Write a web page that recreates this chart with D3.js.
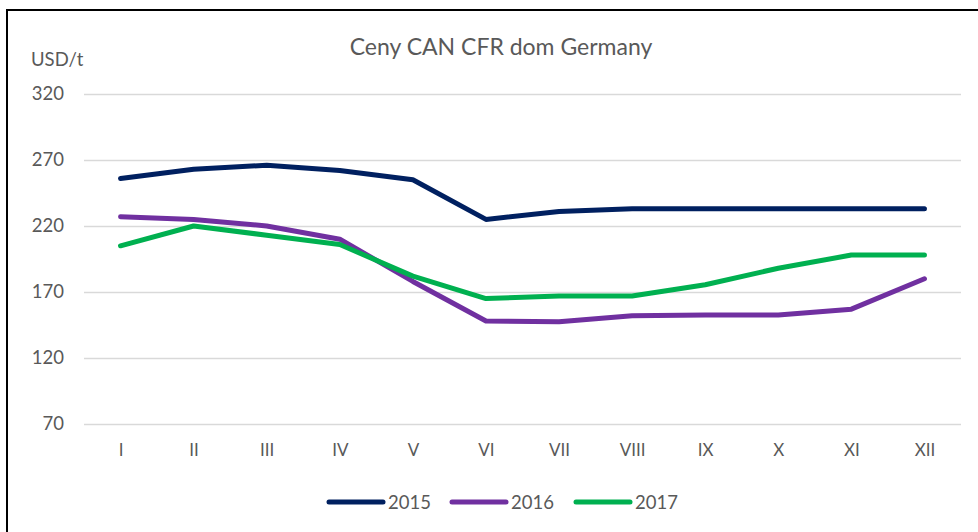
<!DOCTYPE html>
<html>
<head>
<meta charset="utf-8">
<script src="https://cdn.jsdelivr.net/npm/d3@7"></script>
<style>
  body { margin: 0; background: #fff; }
  svg { display: block; font-family: Lato, "Open Sans", sans-serif; }
</style>
</head>
<body>
<svg id="chart"></svg>
<script>
// chart data
var months = ["I", "II", "III", "IV", "V", "VI", "VII", "VIII", "IX", "X", "XI", "XII"];
var years = ["2015", "2016", "2017"];
var v2015 = [256, 263, 266, 262, 255, 225, 231, 233, 233, 233, 233, 233];
var v2016 = [227, 225, 220, 210, 178, 148, 147.5, 152, 152.5, 152.5, 157, 180];
var v2017 = [205, 220, 213, 206, 182, 165, 167, 167, 175.5, 188, 198, 198];
var yTicks = [70, 120, 170, 220, 270, 320];
var colors = ["#002060", "#7030A0", "#00B050"];

var W = 978, H = 532;
var margin = {top: 94, right: 17, bottom: 108, left: 84};
var width = W - margin.left - margin.right,
    height = H - margin.top - margin.bottom;

var svg = d3.select("#chart").attr("width", W).attr("height", H);

// outer frame (runs off the right and bottom edge)
svg.append("rect")
    .attr("x", 7).attr("y", 10)
    .attr("width", W + 20).attr("height", H + 20)
    .attr("fill", "none").attr("stroke", "#000").attr("stroke-width", 2);

var x = d3.scalePoint().domain(months).range([0, width]).padding(0.5);
var y = d3.scaleLinear().domain([70, 320]).range([height, 0]);

var g = svg.append("g")
    .attr("transform", "translate(" + margin.left + "," + margin.top + ")");

// gridlines
g.append("g")
    .call(d3.axisLeft(y).tickValues(yTicks).tickSize(-width).tickFormat(""))
    .call(function(a) {
        a.select(".domain").remove();
        a.selectAll("line").attr("stroke", "#d9d9d9").attr("stroke-width", 1.5);
    });

// y tick labels
g.append("g")
    .call(d3.axisLeft(y).tickValues(yTicks).tickSize(0).tickPadding(20))
    .call(function(a) {
        a.select(".domain").remove();
        a.selectAll("text").attr("fill", "#595959").style("font-size", "18.5px")
            .style("font-family", "Lato, sans-serif");
    });

// x labels
g.append("g")
    .attr("transform", "translate(0," + height + ")")
    .call(d3.axisBottom(x).tickSize(0).tickPadding(20))
    .call(function(a) {
        a.select(".domain").remove();
        a.selectAll("text").attr("fill", "#595959").style("font-size", "17px")
            .style("font-family", "Lato, sans-serif");
    });

var series = [v2015, v2016, v2017];
var line = d3.line()
    .x(function(d, i) { return x(months[i]); })
    .y(function(d) { return y(d); });

series.forEach(function(s, i) {
    g.append("path")
        .datum(s)
        .attr("fill", "none")
        .attr("stroke", colors[i])
        .attr("stroke-width", 5)
        .attr("stroke-linecap", "round")
        .attr("stroke-linejoin", "round")
        .attr("d", line);
});

// title and unit
svg.append("text")
    .attr("x", 501).attr("y", 55)
    .attr("text-anchor", "middle")
    .attr("fill", "#595959")
    .style("font-size", "23px")
    .text("Ceny CAN CFR dom Germany");

svg.append("text")
    .attr("x", 31).attr("y", 66)
    .attr("fill", "#595959")
    .style("font-size", "18.5px")
    .text("USD/t");

// legend
var legendX = [329, 452, 576];
var legend = svg.append("g");
years.forEach(function(yr, i) {
    legend.append("line")
        .attr("x1", legendX[i]).attr("x2", legendX[i] + 54)
        .attr("y1", 502).attr("y2", 502)
        .attr("stroke", colors[i]).attr("stroke-width", 5)
        .attr("stroke-linecap", "round");
    legend.append("text")
        .attr("x", legendX[i] + 59).attr("y", 509)
        .attr("fill", "#595959")
        .style("font-size", "18.5px")
        .text(yr);
});
</script>
</body>
</html>
